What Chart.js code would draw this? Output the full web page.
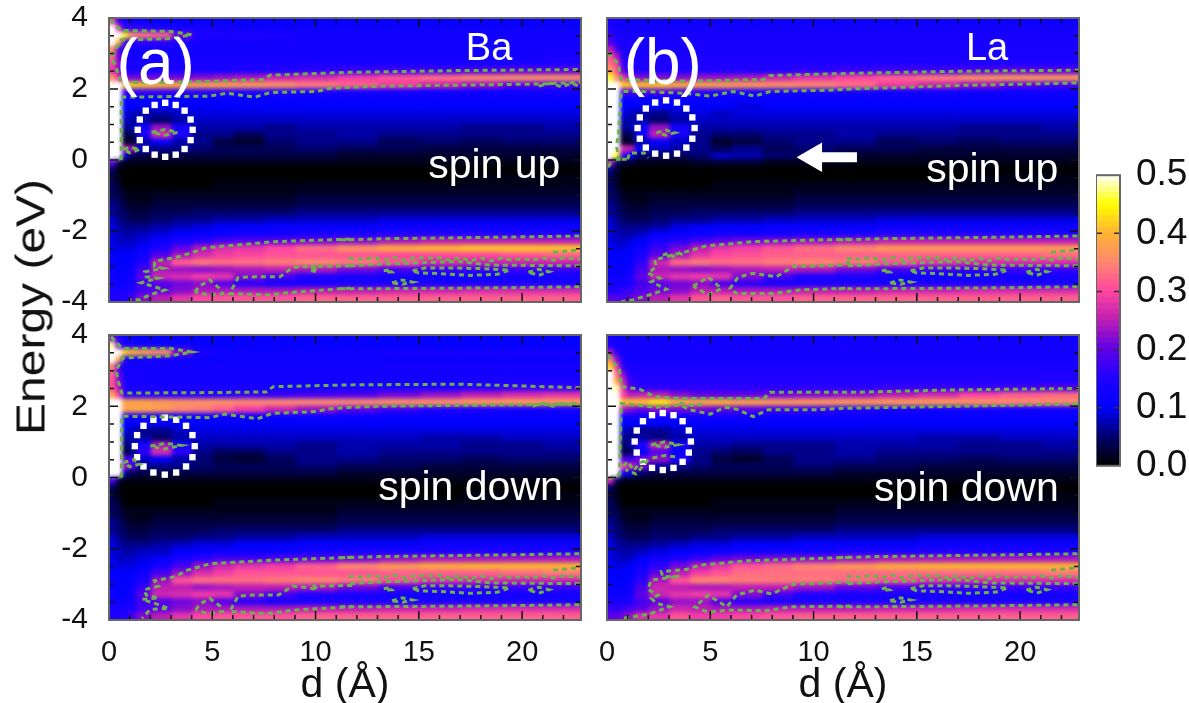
<!DOCTYPE html>
<html>
<head>
    <title>Energy vs d maps</title>
    <script src="https://cdn.jsdelivr.net/npm/chart.js"></script>
    <style>
        body { margin: 0; background: #fff; }
        canvas { position: absolute; }
        #yTitle { position: absolute; left: 31px; top: 307px; font: 40px "Liberation Sans", Arial, sans-serif; color: #111;
            white-space: nowrap; transform: translate(-50%, -50%) rotate(-90deg) scaleX(1.2); }
    </style>
</head>
<body>
    <canvas id="panelA" width="592" height="409" style="left:9px;top:-17px"></canvas>
    <canvas id="panelB" width="592" height="409" style="left:507px;top:-17px"></canvas>
    <canvas id="panelC" width="592" height="410" style="left:9px;top:300px"></canvas>
    <canvas id="panelD" width="592" height="410" style="left:507px;top:300px"></canvas>
    <canvas id="colorBar" width="93" height="351" style="left:1096px;top:145px"></canvas>
    <div id="yTitle">Energy (eV)</div>
    <script>
        // cell edges along d, cell centres along energy (top row first)
        const dEdges = [0,0.3,0.6,0.9,1.3,2,3,4,5,6,7.5,9,11,13,15,17,19,21,22.85];
        const energies = [3.9,3.7,3.5,3.3,3.1,2.9,2.7,2.5,2.3,2.1,1.9,1.7,1.5,1.3,1.1,0.9,0.7,0.5,0.3,0.1,
            -0.1,-0.3,-0.5,-0.7,-0.9,-1.1,-1.3,-1.5,-1.7,-1.9,-2.1,-2.3,-2.5,-2.7,-2.9,-3.1,-3.3,-3.5,-3.7,-3.9];
        const colorLevels = [0,0.01,0.02,0.03,0.04,0.05,0.06,0.07,0.08,0.09,0.1,0.11,0.12,0.13,0.14,0.15,0.16,0.17,0.18,0.19,
            0.2,0.21,0.22,0.23,0.24,0.25,0.26,0.27,0.28,0.29,0.3,0.31,0.32,0.33,0.34,0.35,0.36,0.37,0.38,0.39,
            0.4,0.41,0.42,0.43,0.44,0.45,0.46,0.47,0.48,0.49];

        // map values x100
        const mapA = [
            [30,16,13,12,11,11,11,11,11,11,11,11,11,11,11,11,11,11],
            [50,28,16,17,16,14,13,13,13,12,12,12,12,12,12,12,12,12],
            [60,60,45,36,34,32,21,15,14,15,14,13,13,13,13,13,13,13],
            [60,40,18,15,16,16,14,13,13,13,13,13,13,13,13,13,13,13],
            [36,18,14,13,13,13,13,13,13,13,13,13,13,13,13,13,13,13],
            [33,20,14,13,13,13,13,13,13,13,13,13,13,13,13,13,13,14],
            [30,22,15,14,14,14,14,14,14,14,14,14,14,14,14,14,14,15],
            [28,22,15,14,14,14,14,14,14,15,15,16,17,18,18,19,20,20],
            [36,28,22,21,21,21,21,22,23,24,26,27,29,31,33,35,36,36],
            [60,55,42,42,41,40,39,38,38,37,36,34,32,29,26,23,20,18],
            [60,55,18,17,17,17,16,16,16,15,15,14,13,13,12,12,12,13],
            [60,55,11,11,11,11,11,11,11,11,11,11,11,11,11,11,11,11],
            [60,55,10,10,10,10,10,10,10,10,10,10,10,10,10,10,10,10],
            [60,55,9,8,7,7,8,9,9,9,9,9,9,9,9,9,9,9],
            [60,55,8,7,7,5,7,8,8,8,8,8,8,8,8,8,8,8],
            [60,55,6,7,13,23,13,7,7,7,6,7,7,7,7,6,6,7],
            [60,55,3,4,14,27,15,6,6,4,6,6,7,6,6,6,6,6],
            [60,55,2,2,7,11,7,6,3,2,5,6,6,4,5,4,5,5],
            [60,55,25,23,8,6,6,5,4,4,4,5,4,4,3,3,3,3],
            [60,55,9,4,3,3,3,3,3,3,3,3,2,2,2,2,2,2],
            [20,3,1,1,1,1,1,1,1,1,1,1,1,1,1,1,1,1],
            [4,1,0,0,0,0,0,0,0,0,0,0,0,0,0,0,0,0],
            [3,1,0,0,0,0,0,0,0,0,0,0,0,0,0,1,1,1],
            [4,2,0,0,0,0,0,0,1,1,1,1,1,1,1,1,1,1],
            [4,3,1,1,1,1,1,1,1,1,1,2,2,2,2,2,2,2],
            [5,4,2,1,1,2,2,2,2,2,2,3,3,3,3,3,3,3],
            [6,5,3,2,2,3,3,3,3,3,3,4,4,4,4,4,4,4],
            [7,5,4,3,3,4,4,5,5,5,5,6,6,6,6,6,6,6],
            [8,6,5,4,4,5,6,6,7,7,8,8,8,9,9,9,9,9],
            [9,7,6,6,6,7,8,9,10,10,11,11,11,12,12,12,12,12],
            [9,8,7,7,8,9,10,11,12,13,13,14,14,15,15,15,15,15],
            [9,8,8,8,9,12,14,16,18,19,20,21,22,24,25,25,25,25],
            [10,9,9,9,11,15,20,24,27,28,30,33,36,39,40,41,41,41],
            [10,10,10,10,13,19,24,27,29,30,31,31,31,30,30,30,31,32],
            [11,10,10,11,15,25,32,34,33,33,34,35,34,31,27,26,26,26],
            [11,11,11,12,18,24,23,22,23,24,25,24,21,18,17,17,17,17],
            [12,11,11,13,20,26,27,29,28,22,18,15,14,13,13,13,13,13],
            [13,12,12,14,18,19,21,22,19,16,14,14,14,14,14,14,14,14],
            [14,14,14,15,18,20,22,24,24,24,24,25,25,26,26,27,27,27],
            [15,15,15,18,22,25,28,30,31,31,31,32,32,32,32,32,32,32]
        ];
        const mapB = [
            [14,13,12,12,12,12,12,12,12,12,12,12,12,12,12,12,12,12],
            [15,13,13,13,13,13,13,13,13,13,13,13,13,13,13,13,13,13],
            [17,14,14,14,14,14,14,14,14,14,14,14,14,14,14,14,14,14],
            [19,15,14,14,14,14,14,14,14,14,14,14,14,14,14,14,14,14],
            [25,18,14,14,14,14,14,14,14,14,14,14,14,14,14,14,14,14],
            [31,24,15,14,14,14,14,14,14,14,14,14,14,14,14,14,14,14],
            [33,29,17,15,15,15,15,15,15,15,15,15,15,15,15,15,15,15],
            [38,31,20,15,15,15,15,15,15,15,15,16,17,18,18,19,20,20],
            [46,36,29,24,22,22,22,23,23,24,26,28,30,32,34,36,37,37],
            [60,56,42,41,41,41,39,38,38,37,36,35,33,29,26,23,20,18],
            [60,56,18,18,18,19,17,16,15,14,14,13,13,12,12,12,12,12],
            [60,55,11,11,11,11,11,11,11,11,11,11,11,11,11,11,11,11],
            [60,55,10,10,10,10,10,10,10,9,10,10,10,10,10,10,10,10],
            [60,55,9,8,7,6,8,9,8,9,9,9,9,9,9,9,9,9],
            [60,55,7,7,7,5,7,8,8,8,8,8,8,8,8,8,8,8],
            [60,55,6,7,12,23,13,7,7,7,7,7,7,7,7,6,6,7],
            [60,55,3,4,13,25,14,6,5,5,6,6,7,6,6,6,6,6],
            [60,55,2,2,7,11,8,6,2,3,5,6,6,4,5,4,5,5],
            [60,58,27,25,11,8,7,6,4,6,4,5,4,4,3,3,3,3],
            [60,45,17,11,5,4,4,5,8,7,5,4,2,2,2,2,2,2],
            [24,5,2,2,1,1,1,2,2,2,1,1,1,1,1,1,1,1],
            [6,2,0,0,0,0,0,0,0,0,0,0,0,0,0,0,0,0],
            [4,2,0,0,0,0,0,0,0,0,0,0,0,0,0,1,1,1],
            [4,2,0,0,0,0,0,0,1,1,1,1,1,1,1,1,1,1],
            [5,3,1,1,1,1,1,1,1,1,1,2,2,2,2,2,2,2],
            [5,4,2,1,1,2,2,2,2,2,2,3,3,3,3,3,3,3],
            [6,5,3,2,2,3,3,3,3,3,3,4,4,4,4,4,4,4],
            [7,5,4,3,3,4,4,5,5,5,5,6,6,6,6,6,6,6],
            [8,6,5,4,4,5,6,6,7,7,8,8,8,9,9,9,9,9],
            [9,7,6,6,6,7,9,10,10,10,11,11,11,12,12,12,12,12],
            [9,8,7,7,8,10,11,12,13,13,13,14,14,15,15,15,15,15],
            [9,8,8,9,10,14,16,18,20,21,22,23,24,25,25,25,25,25],
            [10,9,9,10,12,17,21,25,28,29,31,33,35,37,37,37,37,37],
            [10,10,10,10,14,20,24,28,30,31,32,32,32,32,32,32,32,33],
            [11,10,10,11,16,26,33,34,33,33,34,35,34,31,28,27,27,27],
            [11,11,11,12,18,24,23,22,23,24,25,24,21,18,17,17,17,17],
            [12,12,12,13,20,26,28,29,28,22,18,15,14,13,13,13,13,13],
            [13,13,13,14,18,19,21,22,18,16,14,14,14,14,14,14,14,14],
            [15,15,16,17,19,21,22,25,25,24,24,25,25,26,26,27,27,27],
            [20,19,19,20,22,25,28,31,32,31,31,32,32,32,32,32,32,32]
        ];
        const mapC = [
            [22,15,12,12,11,11,11,11,11,11,11,11,11,11,11,11,11,11],
            [48,20,14,14,13,12,12,11,11,11,11,11,11,11,11,11,11,11],
            [60,60,42,40,38,36,22,14,12,12,12,12,12,13,13,13,13,13],
            [60,38,15,13,13,13,12,12,12,12,12,12,12,12,12,12,12,12],
            [35,18,13,13,13,13,13,13,13,13,13,13,13,13,13,13,13,13],
            [32,20,13,13,13,13,13,13,13,13,13,13,13,13,13,13,13,13],
            [31,22,14,13,13,13,13,13,13,13,13,13,13,13,13,14,14,14],
            [31,24,15,14,14,14,14,14,14,14,14,14,14,15,15,16,17,17],
            [38,29,16,16,16,16,16,16,16,17,17,18,19,21,23,25,27,28],
            [60,52,38,38,38,37,36,36,36,35,35,35,35,36,36,37,37,37],
            [60,60,38,38,38,37,35,34,32,29,26,23,20,17,15,14,13,13],
            [60,56,15,14,14,14,13,13,13,13,12,12,12,11,11,11,11,11],
            [60,55,10,10,10,10,10,10,10,10,10,10,10,10,10,10,10,10],
            [60,55,9,8,6,6,8,9,9,9,9,9,9,9,9,9,9,9],
            [60,55,7,7,7,5,7,8,8,8,8,8,8,8,7,7,8,8],
            [60,55,5,7,13,24,13,7,7,7,7,6,7,7,7,6,6,7],
            [60,55,3,5,16,27,16,6,4,4,6,6,7,6,6,6,6,6],
            [60,55,19,17,8,10,7,5,3,2,4,6,6,5,5,4,5,5],
            [60,55,23,20,6,6,6,5,4,4,4,5,4,4,3,3,3,3],
            [60,55,7,4,3,3,3,3,3,3,3,3,2,2,2,2,2,2],
            [18,3,1,1,1,1,1,1,1,1,1,1,1,1,1,1,1,1],
            [4,1,0,0,0,0,0,0,0,0,0,0,0,0,0,0,0,0],
            [3,1,0,0,0,0,0,0,0,0,0,0,0,0,0,1,1,1],
            [4,2,0,0,0,0,0,0,1,1,1,1,1,1,1,1,1,1],
            [4,3,1,1,1,1,1,1,1,1,1,1,2,2,2,2,2,2],
            [5,4,2,1,1,2,2,2,2,2,2,2,3,3,3,3,3,3],
            [6,5,3,2,2,3,3,3,3,3,3,3,4,4,4,4,4,4],
            [7,5,4,3,3,4,4,4,5,5,5,5,6,6,6,6,6,6],
            [8,6,5,4,4,5,5,6,6,7,7,8,8,8,9,9,9,9],
            [9,7,6,6,6,7,8,9,9,10,10,11,11,11,12,12,12,12],
            [9,8,7,7,8,8,10,11,12,12,12,13,14,14,15,15,15,15],
            [9,8,8,8,9,11,14,16,18,18,19,20,21,23,24,24,24,24],
            [10,9,9,9,10,14,18,23,26,28,29,32,35,37,39,40,40,40],
            [10,10,10,10,13,18,23,27,29,31,31,31,31,32,32,32,33,34],
            [11,10,10,11,14,23,31,33,33,33,34,35,34,31,28,27,26,26],
            [11,11,11,12,17,25,25,23,24,25,25,24,21,18,17,17,17,17],
            [12,11,11,13,20,26,27,29,28,22,18,15,14,13,13,13,13,13],
            [13,12,12,14,18,19,21,22,19,16,14,14,14,14,14,14,14,14],
            [14,14,14,15,18,20,22,24,24,24,24,25,25,26,26,27,27,27],
            [15,15,15,18,22,25,28,30,31,31,31,32,32,32,32,32,32,32]
        ];
        const mapD = [
            [14,12,12,12,12,12,12,12,12,12,12,12,12,12,12,12,12,12],
            [15,13,13,13,13,13,13,13,13,13,13,13,13,13,13,13,13,13],
            [24,15,13,13,13,13,13,13,13,13,13,13,13,13,13,13,13,13],
            [34,22,14,13,13,13,13,13,13,13,13,13,13,13,13,13,13,13],
            [42,28,16,14,14,14,14,14,14,14,14,14,14,14,14,14,14,14],
            [50,33,22,15,15,15,15,15,15,15,15,15,15,15,15,15,15,15],
            [60,38,26,17,15,15,15,15,15,15,15,15,15,15,15,15,15,15],
            [60,48,29,20,16,16,16,16,16,16,16,16,16,17,17,17,18,19],
            [60,55,30,25,26,25,22,20,20,20,21,22,23,25,27,30,32,33],
            [60,60,41,41,41,44,40,39,40,38,37,37,37,37,37,36,35,35],
            [60,60,24,22,20,22,21,21,20,19,18,17,15,14,13,13,13,13],
            [60,56,13,13,13,13,13,13,13,13,12,12,12,11,11,11,11,11],
            [60,55,10,10,10,10,10,10,10,10,10,10,10,10,10,10,10,10],
            [60,55,8,7,6,6,8,9,9,9,9,9,9,9,9,9,9,9],
            [60,55,6,6,7,6,7,8,8,8,8,8,8,8,7,7,8,8],
            [60,55,4,7,15,26,15,7,7,6,6,6,7,7,7,6,6,7],
            [60,55,3,4,11,19,11,6,5,4,6,6,7,6,6,6,6,6],
            [60,55,19,17,21,23,15,6,3,2,4,6,6,5,5,4,5,5],
            [60,55,29,27,21,7,6,5,4,4,4,5,4,4,3,3,3,3],
            [60,52,13,9,5,3,3,3,3,3,3,3,2,2,2,2,2,2],
            [26,4,1,1,1,1,1,1,1,1,1,1,1,1,1,1,1,1],
            [5,1,0,0,0,0,0,0,0,0,0,0,0,0,0,0,0,0],
            [3,1,0,0,0,0,0,0,0,0,0,0,0,0,0,1,1,1],
            [4,2,0,0,0,0,0,0,1,1,1,1,1,1,1,1,1,1],
            [4,3,1,1,1,1,1,1,1,1,1,1,2,2,2,2,2,2],
            [5,4,2,1,1,2,2,2,2,2,2,2,3,3,3,3,3,3],
            [6,5,3,2,2,3,3,3,3,3,3,3,4,4,4,4,4,4],
            [7,5,4,3,3,4,4,4,5,5,5,5,6,6,6,6,6,6],
            [8,6,5,4,4,5,5,6,6,7,7,8,8,8,9,9,9,9],
            [9,7,6,6,6,7,8,9,9,10,10,11,11,11,12,12,12,12],
            [9,8,7,7,8,9,10,11,12,13,13,13,14,14,15,15,15,15],
            [9,8,8,8,10,13,15,17,20,21,22,22,23,24,24,24,24,24],
            [10,9,9,10,12,16,21,25,28,31,33,35,37,39,40,40,40,40],
            [10,10,10,10,14,20,25,29,31,33,33,33,33,33,33,33,33,34],
            [11,10,10,11,16,24,31,35,35,34,34,34,33,31,28,27,27,27],
            [11,11,11,12,18,26,25,24,24,25,25,23,20,18,17,17,17,17],
            [13,12,12,14,20,26,28,29,28,22,18,15,14,14,14,13,13,13],
            [15,14,14,15,18,20,23,23,19,16,14,14,14,14,14,14,14,14],
            [17,16,17,18,20,23,26,25,24,24,25,25,25,26,26,27,27,27],
            [20,20,21,23,27,28,31,29,29,30,31,32,32,32,32,32,32,32]
        ];

        // dashed contours, [d, energy]
        const rightBottomUp = [
            [[11.2,-2.25],[13.1,-2.22],[17,-2.19],[22.85,-2.14]],
            [[11.67,-2.98],[13.1,-2.93],[14.8,-2.9],[16.9,-2.86],[18.5,-2.96],[22.85,-2.98]],
            [[11.6,-2.77],[12.3,-2.8],[12.8,-2.74],[13.3,-2.82],[13.8,-2.74],[14.3,-2.82],[14.8,-2.75],[15.3,-2.76],[16,-2.75],[16.5,-2.82],[17,-2.75],[17.5,-2.84],[18,-2.76],[18.5,-2.84],[19,-2.76],[19.5,-2.82],[20,-2.78],[20.5,-2.82],[21,-2.76],[21.5,-2.82],[22,-2.76],[22.85,-2.8]],
            [[11.2,-3.63],[15,-3.62],[19,-3.6],[22.85,-3.57]],
            [[14.7,-3.12],[15.3,-3.04],[16.5,-3.04],[18,-3.06],[19.4,-3.1],[18.8,-3.22],[17.5,-3.25],[16,-3.2],[15,-3.18],[14.7,-3.12]],
            [[20.3,-3.16],[20.8,-3.08],[21.3,-3.15],[20.8,-3.25],[20.3,-3.16]],
            [[13.7,-3.46],[14.2,-3.38],[14.7,-3.44],[14.2,-3.5],[13.7,-3.46]],
            [[13.3,-3.12],[13.6,-3.09],[13.7,-3.15],[13.3,-3.16]],
            [[21.5,-2.6],[22.3,-2.56],[22.85,-2.53]]
        ];
        const contoursA = [
            [[0.05,3.95],[0.59,3.65],[3,3.62],[4,3.53],[3,3.42],[0.6,3.38],[0.1,2.9],[0.35,2.6],[0.59,2.18],[4,2.2],[7.47,2.27],[7.8,2.39],[11.67,2.47],[17,2.52],[22.85,2.55]],
            [[0.59,0],[0.59,1.77],[4.88,1.8],[5.7,1.88],[7.06,1.77],[7.8,1.9],[10.06,1.93],[10.7,2.02],[11.67,2.05],[13.1,2.08],[20.9,2.14],[22.85,2.19]],
            [[20.8,2.08],[21.4,2.16],[21.9,2.06],[22.4,2.16],[22.85,2.06]],
            [[2.06,0.78],[2.7,0.86],[3.33,0.78],[2.7,0.7],[2.06,0.78]],
            [[0.7,0.3],[1,0.36],[1.5,0.3],[1,0.2],[0.7,0.3]],
            [[11.67,-2.23],[8,-2.3],[4.72,-2.47],[3.42,-2.72],[2.2,-2.86],[2.2,-3],[2.6,-3.05],[1.72,-3.15],[1.8,-3.29],[2.37,-3.33],[1.56,-3.46],[2.2,-3.57],[2.7,-3.66],[1.97,-3.8],[1.48,-3.94],[1,-3.94]],
            [[11.67,-2.98],[9.9,-3],[10.1,-3.15],[9.7,-3.1],[9.9,-3],[8.9,-3.02],[8.28,-3.29],[7.1,-3.29],[6.25,-3.31],[5.85,-3.76],[7.63,-3.8],[9.25,-3.71],[11.67,-3.61]],
            [[4.15,-3.71],[4.4,-3.55],[4.88,-3.38],[5.36,-3.62],[5.5,-3.76],[4.8,-3.8],[4.15,-3.71]]
        ].concat(rightBottomUp);
        const contoursB = [
            [[0.04,3.02],[0.53,2.72],[0.69,2.26],[1.25,2.26],[4,2.22],[7.6,2.27],[7.89,2.38],[11.77,2.44],[17,2.5],[22.85,2.53]],
            [[0.6,-0.02],[0.45,0.4],[0.55,0.7],[0.69,1.93],[1.74,1.93],[3.68,1.88],[5,1.8],[6.1,1.93],[7.16,1.8],[7.89,1.93],[11,1.97],[11.77,2],[17,2.1],[22.85,2.17]],
            [[2.4,0.77],[2.85,0.84],[3.28,0.77],[2.85,0.7],[2.4,0.77]],
            [[1,0.02],[1.1,0.2],[1.8,0.2],[2,0.06]],
            [[0.05,-0.2],[0.3,0.02],[1,0.02]],
            [[11.77,-2.23],[7.08,-2.3],[4.8,-2.42],[3.84,-2.58],[2.87,-2.72],[2.3,-2.82],[2.4,-3],[1.98,-3.19],[2.55,-3.33],[2.14,-3.43],[2.87,-3.64],[2.06,-3.8],[1.25,-3.94],[0.69,-3.99]],
            [[11.77,-2.86],[11.45,-2.96],[9,-3],[8.2,-3.29],[7.08,-3.19],[6.35,-3.3],[5.95,-3.62],[6.27,-3.76],[8.05,-3.76],[9.35,-3.66],[11.77,-3.61]],
            [[4.17,-3.55],[4.9,-3.3],[5.54,-3.62],[4.9,-3.8],[4.17,-3.55]],
            [[2.7,-2.68],[3,-2.62],[3.2,-2.72],[3.5,-2.62],[3.8,-2.72]]
        ].concat(rightBottomUp);
        const contoursC = [
            [[0.1,3.95],[0.65,3.62],[3,3.62],[4,3.52],[3,3.42],[0.65,3.35],[0.35,3],[0.45,2.7],[0.62,2.37],[4,2.38],[7.6,2.4],[7.95,2.55],[11.77,2.6],[17,2.62],[22.85,2.52]],
            [[0.6,0],[0.62,1.72],[4.9,1.68],[5.6,1.78],[7.2,1.65],[7.9,1.8],[10,1.85],[10.7,1.93],[11.77,1.97],[13.1,2],[20.9,2.05],[22.85,2.08]],
            [[20.5,2.0],[21,2.08],[21.5,2.0],[22,2.08],[22.85,2]],
            [[2,0.88],[2.7,0.96],[3.5,0.9],[2.7,0.8],[2,0.88]],
            [[0.7,0.42],[1.2,0.5],[1.5,0.38],[1,0.3],[0.7,0.42]],
            [[11.77,-2.24],[8,-2.32],[4.9,-2.42],[3.8,-2.6],[3.2,-2.78],[2.2,-2.9],[2.4,-3.05],[1.7,-3.15],[1.8,-3.3],[2.4,-3.38],[1.6,-3.42],[2.3,-3.55],[2.9,-3.68],[2,-3.7],[1.6,-3.95]],
            [[11.77,-3.03],[9.95,-3.05],[10.1,-3.15],[9.7,-3.1],[8.9,-3.05],[8.2,-3.3],[7,-3.3],[6.25,-3.33],[5.85,-3.76],[7.6,-3.82],[9,-3.72],[11.77,-3.63]],
            [[4.2,-3.72],[4.4,-3.55],[4.88,-3.4],[5.36,-3.6],[5.5,-3.76],[4.8,-3.82],[4.2,-3.72]]
        ].concat(rightBottomUp);
        const contoursD = [
            [[0.04,3.44],[0.6,3.02],[0.69,2.55],[1.58,2.48],[2.3,2.27],[3.52,2.22],[7.6,2.22],[7.89,2.39],[11.77,2.39],[17,2.46],[22.85,2.5]],
            [[0.1,-0.04],[0.6,0.1],[0.69,2.08],[2.4,1.97],[3.52,2.04],[4,1.9],[5,1.78],[5.7,1.97],[6.27,1.92],[7.08,1.71],[7.8,1.9],[10.15,1.9],[11.3,1.94],[17,2],[22.85,2.07]],
            [[3.52,2.1],[4.2,2.02],[4.8,2.08]],
            [[2.15,0.92],[2.8,1],[3.44,0.92],[2.8,0.85],[2.15,0.92]],
            [[2.2,0.55],[2.8,0.62],[3.3,0.58]],
            [[0.8,0.32],[1,0.45],[1.3,0.2],[1.6,0.42],[2,0.5],[1.4,0.1],[0.9,0.22]],
            [[11.77,-2.24],[6.76,-2.34],[4.5,-2.46],[3.84,-2.58],[2.63,-2.64],[2.7,-2.79],[3.52,-2.77],[2.14,-2.88],[1.98,-3.14],[2.47,-3.3],[2.14,-3.39],[2.39,-3.53],[3.03,-3.63],[2.06,-3.83],[0.69,-3.96]],
            [[11.77,-2.93],[9,-3],[7.97,-3.27],[7.16,-3.16],[6.27,-3.3],[5.8,-3.63],[4.9,-3.3],[4.25,-3.63],[4.9,-3.78],[5.87,-3.72],[7.7,-3.74],[8.9,-3.63],[11.77,-3.61]]
        ].concat(rightBottomUp);

        // white dotted rings, [d, energy]
        const ringA = [[4.05,0.85],[3.95,1.14],[3.66,1.39],[3.23,1.55],[2.72,1.61],[2.21,1.55],[1.78,1.39],[1.49,1.14],[1.39,0.85],[1.49,0.56],[1.78,0.31],[2.21,0.15],[2.72,0.09],[3.23,0.15],[3.66,0.31],[3.95,0.56]];
        const ringB = [[4.24,0.9],[4.13,1.2],[3.84,1.45],[3.39,1.62],[2.86,1.68],[2.33,1.62],[1.88,1.45],[1.59,1.2],[1.48,0.9],[1.59,0.6],[1.88,0.35],[2.33,0.18],[2.86,0.12],[3.39,0.18],[3.84,0.35],[4.13,0.6]];
        const ringC = [[4.15,0.88],[4.04,1.19],[3.73,1.45],[3.25,1.62],[2.7,1.68],[2.15,1.62],[1.67,1.45],[1.36,1.19],[1.25,0.88],[1.36,0.57],[1.67,0.31],[2.15,0.14],[2.7,0.08],[3.25,0.14],[3.73,0.31],[4.04,0.57]];
        const ringD = [[4.06,1.01],[3.96,1.32],[3.66,1.58],[3.22,1.75],[2.7,1.81],[2.18,1.75],[1.74,1.58],[1.44,1.32],[1.34,1.01],[1.44,0.7],[1.74,0.44],[2.18,0.27],[2.7,0.21],[3.22,0.27],[3.66,0.44],[3.96,0.7]];

        const arrowTail = [[12.1,0.08],[10.2,0.08]];
        const arrowHead = [[10.0,0.08]];

        const colorStops = [[0,0,0,0],[0.05,0,0,110],[0.1,0,0,255],[0.15,30,0,255],[0.2,95,0,230],[0.25,190,30,180],[0.3,255,70,160],[0.35,255,135,110],[0.4,255,180,50],[0.45,255,255,0],[0.5,255,255,255]];

        function colorOf(v) {
            if (v >= 0.5) return '#fff';
            for (let i = 1; i < colorStops.length; i++) {
                const a = colorStops[i - 1], b = colorStops[i];
                if (v <= b[0]) {
                    const t = (v - a[0]) / (b[0] - a[0]);
                    const mix = k => Math.round(a[k] + (b[k] - a[k]) * t);
                    return `rgb(${mix(1)},${mix(2)},${mix(3)})`;
                }
            }
            return '#fff';
        }

        const toPoints = list => list.map(p => ({x: p[0], y: p[1]}));

        // smooths the cells once the last one is painted, contours come after
        const smoothCells = {
            id: 'smoothCells',
            afterDatasetDraw(chart, args) {
                if (args.index !== 0) return;
                const a = chart.chartArea, w = Math.round(a.width), h = Math.round(a.height);
                const off = document.createElement('canvas');
                off.width = w; off.height = h;
                off.getContext('2d').drawImage(chart.canvas, a.left, a.top, w, h, 0, 0, w, h);
                const ctx = chart.ctx;
                ctx.save();
                ctx.beginPath();
                ctx.rect(a.left, a.top, a.width, a.height);
                ctx.clip();
                ctx.filter = 'blur(2px)';
                ctx.drawImage(off, a.left, a.top);
                ctx.restore();
            }
        };

        // inward ticks on all four sides, and the frame
        function frameTicks(xMinor, yMinor) {
            return {
                id: 'frameTicks',
                afterDraw(chart) {
                    const ctx = chart.ctx, a = chart.chartArea, xs = chart.scales.x, ys = chart.scales.y;
                    ctx.save();
                    ctx.strokeStyle = '#111';
                    ctx.lineWidth = 1.5;
                    ctx.beginPath();
                    xMinor.forEach(v => {
                        const px = xs.getPixelForValue(v), len = v % 5 === 0 ? 9 : 5;
                        ctx.moveTo(px, a.top); ctx.lineTo(px, a.top + len);
                        ctx.moveTo(px, a.bottom); ctx.lineTo(px, a.bottom - len);
                    });
                    yMinor.forEach(v => {
                        const py = ys.getPixelForValue(v), len = v % 2 === 0 ? 9 : 5;
                        ctx.moveTo(a.left, py); ctx.lineTo(a.left + len, py);
                        ctx.moveTo(a.right, py); ctx.lineTo(a.right - len, py);
                    });
                    ctx.stroke();
                    ctx.strokeStyle = '#666';
                    ctx.lineWidth = 2;
                    ctx.strokeRect(a.left, a.top, a.width, a.height);
                    ctx.restore();
                }
            };
        }

        const xTickMarks = [1,2,3,4,5,6,7,8,9,10,11,12,13,14,15,16,17,18,19,20,21,22];
        const yTickMarks = [-3.5,-3,-2.5,-2,-1.5,-1,-0.5,0,0.5,1,1.5,2,2.5,3,3.5];

        function labelText(items) {
            return {
                id: 'labelText',
                afterDatasetsDraw(chart) {
                    const ctx = chart.ctx, xs = chart.scales.x, ys = chart.scales.y;
                    ctx.save();
                    ctx.fillStyle = '#fff';
                    ctx.textAlign = 'center';
                    ctx.textBaseline = 'middle';
                    items.forEach(t => {
                        ctx.font = t.size + 'px "Liberation Sans", Arial, sans-serif';
                        ctx.fillText(t.text, xs.getPixelForValue(t.d), ys.getPixelForValue(t.e));
                    });
                    ctx.restore();
                }
            };
        }

        function makePanel(id, map, contours, ring, texts, showXLabels, showYLabels, extra) {
            const datasets = [];
            for (let c = 0; c < dEdges.length - 1; c++) {
                datasets.push({
                    type: 'bar',
                    indexAxis: 'y',
                    grouped: false,
                    categoryPercentage: 1,
                    barPercentage: 1,
                    borderWidth: 0,
                    inflateAmount: 0.6,
                    order: 1,
                    data: energies.map((e, r) => ({y: e, x: [dEdges[c], dEdges[c + 1]]})),
                    backgroundColor: map.map(row => colorOf(row[c] / 100))
                });
            }
            contours.forEach(line => datasets.push({
                type: 'scatter', showLine: true, order: 0, data: toPoints(line),
                borderColor: '#6eb04e', borderWidth: 3, borderDash: [5, 4], pointRadius: 0, fill: false
            }));
            datasets.push({
                type: 'scatter', order: 0, data: toPoints(ring),
                pointStyle: 'rect', pointRadius: 4.5, backgroundColor: '#fff', borderWidth: 0
            });
            (extra || []).forEach(d => datasets.push(d));
            new Chart(document.getElementById(id), {
                type: 'bar',
                data: {datasets: datasets},
                plugins: [smoothCells, labelText(texts), frameTicks(xTickMarks, yTickMarks)],
                options: {
                    responsive: false,
                    animation: false,
                    layout: {padding: {top: 35, right: 20}},
                    plugins: {legend: {display: false}, tooltip: {enabled: false}},
                    scales: {
                        x: {
                            type: 'linear', min: 0, max: 22.85, offset: false,
                            grid: {display: false, offset: false}, border: {display: false},
                            ticks: {
                                display: showXLabels, stepSize: 5, includeBounds: false, maxRotation: 0, padding: 8,
                                color: '#111', font: {family: '"Liberation Sans", Arial, sans-serif', size: 29}
                            },
                            title: {
                                display: showXLabels, text: 'd (Å)', color: '#111', padding: {top: 0, bottom: 0},
                                font: {family: '"Liberation Sans", Arial, sans-serif', size: 41}
                            },
                            afterFit(scale) { scale.height = 90; }
                        },
                        y: {
                            type: 'linear', min: -4, max: 4, offset: false,
                            grid: {display: false, offset: false}, border: {display: false},
                            ticks: {
                                display: showYLabels, stepSize: 2, padding: 13,
                                color: '#111', font: {family: '"Liberation Sans", Arial, sans-serif', size: 30}
                            },
                            afterFit(scale) { scale.width = 100; }
                        }
                    }
                }
            });
        }

        const arrow = [
            {type: 'scatter', showLine: true, order: 0, data: toPoints(arrowTail), borderColor: '#fff', borderWidth: 10, pointRadius: 0},
            {type: 'scatter', order: 0, data: toPoints(arrowHead), pointStyle: 'triangle', rotation: -90, pointRadius: 17, backgroundColor: '#fff', borderWidth: 0}
        ];

        makePanel('panelA', mapA, contoursA, ringA,
            [{text: '(a)', d: 2.26, e: 2.65, size: 64}, {text: 'Ba', d: 18.4, e: 3.1, size: 38}, {text: 'spin up', d: 18.65, e: -0.2, size: 41}],
            false, true);
        makePanel('panelB', mapB, contoursB, ringB,
            [{text: '(b)', d: 2.7, e: 2.65, size: 64}, {text: 'La', d: 18.4, e: 3.1, size: 38}, {text: 'spin up', d: 18.65, e: -0.3, size: 41}],
            false, false, arrow);
        makePanel('panelC', mapC, contoursC, ringC,
            [{text: 'spin down', d: 17.5, e: -0.3, size: 41}],
            true, true);
        makePanel('panelD', mapD, contoursD, ringD,
            [{text: 'spin down', d: 17.4, e: -0.35, size: 41}],
            true, false);

        // colour bar
        new Chart(document.getElementById('colorBar'), {
            type: 'bar',
            data: {
                labels: ['scale'],
                datasets: colorLevels.map(v => ({
                    data: [[v, v + 0.01]],
                    backgroundColor: colorOf(v + 0.005),
                    grouped: false, categoryPercentage: 1, barPercentage: 1, borderWidth: 0, inflateAmount: 0.5
                }))
            },
            plugins: [{
                id: 'barFrame',
                afterDraw(chart) {
                    const ctx = chart.ctx, a = chart.chartArea, ys = chart.scales.y;
                    ctx.save();
                    ctx.strokeStyle = '#333';
                    ctx.lineWidth = 1.5;
                    ctx.beginPath();
                    [0.1, 0.2, 0.3, 0.4].forEach(v => {
                        const py = ys.getPixelForValue(v);
                        ctx.moveTo(a.left, py); ctx.lineTo(a.left + 6, py);
                        ctx.moveTo(a.right, py); ctx.lineTo(a.right - 6, py);
                    });
                    ctx.stroke();
                    ctx.strokeStyle = '#666';
                    ctx.lineWidth = 2;
                    ctx.strokeRect(a.left, a.top, a.width, a.height);
                    ctx.restore();
                }
            }],
            options: {
                responsive: false,
                animation: false,
                layout: {padding: {top: 30, bottom: 30}},
                plugins: {legend: {display: false}, tooltip: {enabled: false}},
                scales: {
                    x: {display: false},
                    y: {
                        position: 'right', min: 0, max: 0.5,
                        grid: {display: false}, border: {display: false},
                        ticks: {
                            stepSize: 0.1, padding: 8, color: '#111',
                            font: {family: '"Liberation Sans", Arial, sans-serif', size: 37},
                            callback: v => v.toFixed(1)
                        },
                        afterFit(scale) { scale.width = 69; }
                    }
                }
            }
        });
    </script>
</body>
</html>
